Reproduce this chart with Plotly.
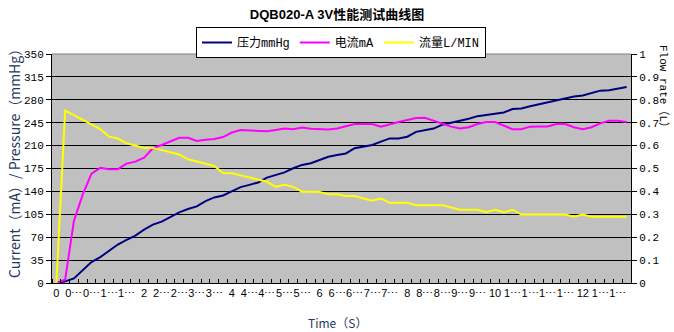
import plotly.graph_objects as go

# ---- data ----
times = [0.0, 0.2, 0.4, 0.6, 0.8, 1.0, 1.2, 1.4, 1.6, 1.8,
         2.0, 2.2, 2.4, 2.6, 2.8, 3.0, 3.2, 3.4, 3.6, 3.8,
         4.0, 4.2, 4.4, 4.6, 4.8, 5.0, 5.2, 5.4, 5.6, 5.8,
         6.0, 6.2, 6.4, 6.6, 6.8, 7.0, 7.2, 7.4, 7.6, 7.8,
         8.0, 8.2, 8.4, 8.6, 8.8, 9.0, 9.2, 9.4, 9.6, 9.8,
         10.0, 10.2, 10.4, 10.6, 10.8, 11.0, 11.2, 11.4, 11.6, 11.8,
         12.0, 12.2, 12.4, 12.6, 12.8, 13.0]

pressure = [0, 2.5, 7, 19, 32, 39.5, 48.7, 58.8, 66, 72.5,
            81.6, 89.2, 93.8, 100.4, 108, 113, 117, 125.2, 130.8, 133.8,
            140.4, 146.5, 150, 153.6, 161, 165, 169, 175.4, 180.5, 183,
            188, 193, 195.7, 198, 206, 209, 211, 216, 221, 221,
            223.6, 231, 233.7, 236, 242, 245, 247, 251, 255, 256.5,
            258.6, 260.6, 266, 266.7, 270, 273, 276, 279, 281, 285,
            286.5, 290.5, 294, 294.6, 297, 299.6]

current = [0, 5, 95, 135, 167, 176, 174, 174, 182.5, 185.5,
           191.6, 206, 211, 217, 222, 222, 217, 219, 220, 223,
           230, 233.7, 233, 232, 232, 234, 236, 235, 237.8, 235.8,
           235, 234.7, 236, 240, 243, 243, 243, 239, 243, 246,
           249, 252, 252.5, 248, 243, 239, 236, 238, 243, 246,
           246, 240, 235, 235, 239, 239.3, 239.3, 243, 243, 238,
           235, 238, 244, 248, 248, 246]

flow = [0, 0.753, 0.733, 0.712, 0.692, 0.672, 0.639, 0.631, 0.610, 0.601,
        0.590, 0.590, 0.581, 0.571, 0.561, 0.540, 0.530, 0.520, 0.511, 0.480,
        0.479, 0.470, 0.461, 0.453, 0.442, 0.420, 0.429, 0.420, 0.399, 0.399,
        0.397, 0.388, 0.388, 0.380, 0.380, 0.369, 0.359, 0.369, 0.350, 0.350,
        0.350, 0.340, 0.340, 0.340, 0.340, 0.330, 0.320, 0.320, 0.320, 0.309,
        0.320, 0.309, 0.320, 0.299, 0.299, 0.299, 0.299, 0.299, 0.299, 0.289,
        0.299, 0.289, 0.289, 0.289, 0.289, 0.289]

series_names = ["压力mmHg", "电流mA", "流量L/MIN"]
title_text = "DQB020-A 3V性能测试曲线图"
left_title = "Current（mA）/ Pressure（mmHg）"
right_title = "Flow rate（L）"
x_title = "Time（S）"


def trunc_label(t):
    s = format(t, "g")
    return s if len(s) <= 2 else s[0] + "⋯"


label_vals = times[::2]
label_text = [trunc_label(t) for t in label_vals]

navy = "#1F3A5F"
fig = go.Figure()
fig.add_trace(go.Scatter(x=times, y=pressure, name=series_names[0], mode="lines",
                         line=dict(color="#000080", width=2)))
fig.add_trace(go.Scatter(x=times, y=current, name=series_names[1], mode="lines",
                         line=dict(color="#FF00FF", width=2)))
fig.add_trace(go.Scatter(x=times, y=flow, name=series_names[2], mode="lines",
                         yaxis="y2", line=dict(color="#FFFF00", width=2)))

mono = "Liberation Mono, Noto Sans CJK SC"
fig.update_layout(
    width=674, height=332,
    margin=dict(l=52, r=43, t=54, b=49),
    paper_bgcolor="white",
    plot_bgcolor="#C0C0C0",
    title=dict(text="<b>" + title_text + "</b>", x=0.5, xref="container", xanchor="center",
               y=1 - 14 / 332, yref="container", yanchor="middle",
               font=dict(family="Liberation Sans, Noto Sans CJK SC", size=13, color="black")),
    showlegend=True,
    legend=dict(orientation="h", x=(196 - 52) / 579, xanchor="left",
                y=(283 - 27) / 229, yanchor="top",
                bgcolor="white", bordercolor="black", borderwidth=1,
                font=dict(family=mono, size=12, color="black"),
                tracegroupgap=0),
    xaxis=dict(range=[-0.1, 13.1], tickmode="array", tickvals=label_vals, ticktext=label_text,
               tickangle=0, ticks="", showline=True, linecolor="black", linewidth=1,
               showgrid=False, zeroline=False,
               tickfont=dict(family="Liberation Sans", size=11, color="black"),
               minor=dict(tickmode="linear", tick0=-0.1, dtick=0.2, ticks="inside",
                          ticklen=4, tickcolor="black", showgrid=False)),
    yaxis=dict(range=[0, 350], tickmode="linear", tick0=0, dtick=35,
               showgrid=True, gridcolor="black", gridwidth=1,
               ticks="outside", ticklen=5, tickcolor="black",
               showline=True, linecolor="black", linewidth=1, zeroline=False,
               tickfont=dict(family=mono, size=11, color="black")),
    yaxis2=dict(range=[0, 1], tickmode="linear", tick0=0, dtick=0.1,
                overlaying="y", side="right", showgrid=False,
                ticks="outside", ticklen=5, tickcolor="black",
                showline=True, linecolor="black", linewidth=1, zeroline=False,
                tickfont=dict(family=mono, size=11, color="black")),
    shapes=[dict(type="line", xref="paper", yref="paper", x0=0, x1=1, y0=1, y1=1,
                 line=dict(color="#808080", width=1), layer="above")],
    annotations=[
        dict(text=left_title, xref="paper", yref="paper",
             x=(14 - 52) / 579, y=(283 - 160) / 229, xanchor="center", yanchor="middle",
             textangle=-90, showarrow=False,
             font=dict(family="Noto Sans CJK SC", size=14, color=navy)),
        dict(text=right_title, xref="paper", yref="paper",
             x=(664 - 52) / 579, y=(283 - 89) / 229, xanchor="center", yanchor="middle",
             textangle=90, showarrow=False,
             font=dict(family=mono, size=11, color="black")),
        dict(text=x_title, xref="paper", yref="paper",
             x=(337 - 52) / 579, y=(283 - 322) / 229, xanchor="center", yanchor="middle",
             showarrow=False,
             font=dict(family="Noto Sans CJK SC", size=12, color=navy)),
    ],
)

fig.write_html("out.html")
